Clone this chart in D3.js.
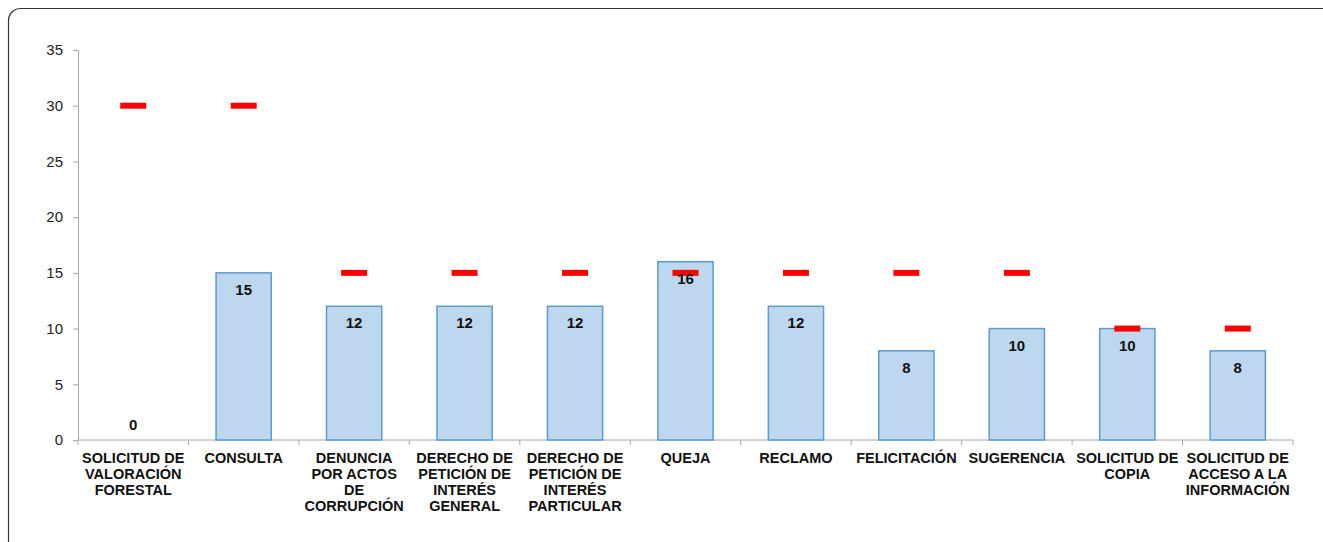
<!DOCTYPE html>
<html>
<head>
<meta charset="utf-8">
<script src="https://cdn.jsdelivr.net/npm/d3@7"></script>
<style>
  html, body { margin: 0; padding: 0; background: #fff; }
  svg { display: block; font-family: "Liberation Sans", Arial, sans-serif; }
</style>
</head>
<body>
<svg id="chart" width="1323" height="542"></svg>
<script>
// Categories (multi-line labels split by "|"), counts and target markers
const categories = [
  "SOLICITUD DE|VALORACIÓN|FORESTAL",
  "CONSULTA",
  "DENUNCIA|POR ACTOS|DE|CORRUPCIÓN",
  "DERECHO DE|PETICIÓN DE|INTERÉS|GENERAL",
  "DERECHO DE|PETICIÓN DE|INTERÉS|PARTICULAR",
  "QUEJA",
  "RECLAMO",
  "FELICITACIÓN",
  "SUGERENCIA",
  "SOLICITUD DE|COPIA",
  "SOLICITUD DE|ACCESO A LA|INFORMACIÓN"
];
const values = [0, 15, 12, 12, 12, 16, 12, 8, 10, 10, 8];
const targets = [30, 30, 15, 15, 15, 15, 15, 15, 15, 10, 10];
const yTicks = [0, 5, 10, 15, 20, 25, 30, 35];

const svg = d3.select("#chart");

// Rounded frame around the chart area
svg.append("rect")
  .attr("x", 8.5).attr("y", 8.5)
  .attr("width", 1340).attr("height", 560)
  .attr("rx", 12).attr("ry", 12)
  .attr("fill", "none")
  .attr("stroke", "#333")
  .attr("stroke-width", 1.2);

const plot = { left: 78, right: 1293, top: 50, bottom: 440 };

const x = d3.scaleBand()
  .domain(categories)
  .range([plot.left, plot.right])
  .paddingInner(0).paddingOuter(0);

const y = d3.scaleLinear().domain([0, 35]).range([plot.bottom, plot.top]);

// Y axis
const yAxis = svg.append("g")
  .attr("transform", `translate(${plot.left},0)`)
  .call(d3.axisLeft(y).tickValues(yTicks).tickSize(5).tickPadding(10).tickSizeOuter(0));
yAxis.select(".domain").attr("stroke", "#a6a6a6");
yAxis.selectAll(".tick line").attr("stroke", "#a6a6a6");
yAxis.selectAll(".tick text")
  .attr("fill", "#222")
  .style("font-size", "15px")
  .style("font-family", "'Liberation Sans', Arial, sans-serif");

// X axis baseline and category separators
const xg = svg.append("g");
xg.append("line")
  .attr("x1", plot.left).attr("x2", plot.right)
  .attr("y1", plot.bottom).attr("y2", plot.bottom)
  .attr("stroke", "#a6a6a6");
const bounds = categories.map(c => x(c)).concat([plot.right]);
xg.selectAll("line.sep")
  .data(bounds)
  .join("line")
  .attr("class", "sep")
  .attr("x1", d => d).attr("x2", d => d)
  .attr("y1", plot.bottom).attr("y2", plot.bottom + 5)
  .attr("stroke", "#a6a6a6");

// Category labels
const labels = svg.append("g");
categories.forEach(c => {
  const lines = c.split("|");
  const cx = x(c) + x.bandwidth() / 2;
  const t = labels.append("text")
    .attr("x", cx)
    .attr("y", 463)
    .attr("text-anchor", "middle")
    .attr("fill", "#111")
    .style("font-size", "14.5px")
    .style("font-weight", "bold");
  lines.forEach((ln, i) => {
    t.append("tspan")
      .attr("x", cx)
      .attr("dy", i === 0 ? 0 : 16)
      .text(ln);
  });
});

// Bars
const barW = x.bandwidth() * 0.5;
svg.append("g").selectAll("rect")
  .data(values.map((v, i) => ({ c: categories[i], v })).filter(d => d.v > 0))
  .join("rect")
  .attr("x", d => x(d.c) + (x.bandwidth() - barW) / 2)
  .attr("y", d => y(d.v))
  .attr("width", barW)
  .attr("height", d => y(0) - y(d.v))
  .attr("fill", "#bdd7ee")
  .attr("stroke", "#5b9bd5")
  .attr("stroke-width", 1.5);

// Target markers
const markW = 26, markH = 6;
svg.append("g").selectAll("rect")
  .data(targets.map((t, i) => ({ c: categories[i], t })))
  .join("rect")
  .attr("x", d => x(d.c) + x.bandwidth() / 2 - markW / 2)
  .attr("y", d => y(d.t) - markH / 2)
  .attr("width", markW)
  .attr("height", markH)
  .attr("fill", "#ff0000");

// Value labels inside the bar top (above the axis when zero)
svg.append("g").selectAll("text")
  .data(values.map((v, i) => ({ c: categories[i], v })))
  .join("text")
  .attr("x", d => x(d.c) + x.bandwidth() / 2)
  .attr("y", d => d.v > 0 ? y(d.v) + 22 : y(0) - 10)
  .attr("text-anchor", "middle")
  .attr("fill", "#111")
  .style("font-size", "15px")
  .style("font-weight", "bold")
  .text(d => d.v);
</script>
</body>
</html>
